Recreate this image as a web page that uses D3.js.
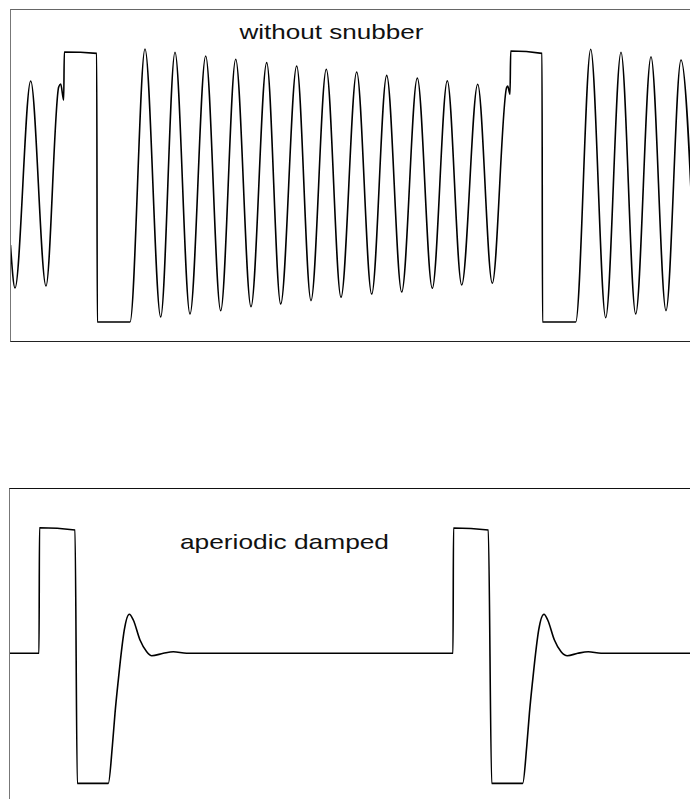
<!DOCTYPE html>
<html>
<head>
<meta charset="utf-8">
<script src="https://cdn.jsdelivr.net/npm/d3@7"></script>
<style>
  body { margin: 0; background: #fff; }
  svg { display: block; }
  .wave { fill: none; stroke: #000; stroke-width: 1.6; stroke-linejoin: round; }
  .label { font-family: "Liberation Sans", Arial, sans-serif; font-size: 21px; fill: #111; }
</style>
</head>
<body>
<svg id="chart" width="690" height="799"></svg>
<script>
// time in us, voltage normalised to the pulse level

// top: without snubber
const topT = [0.05, 0.5, 2.07, 3.6, 4.87, 5.07, 5.37, 5.43, 8.67, 8.73, 12.0,
  13.5, 15.07, 16.5, 18.0, 19.57, 21.07, 22.57, 24.1, 25.67, 27.07, 28.67, 30.1,
  31.63, 33.1, 34.67, 36.17, 37.67, 39.17, 40.73, 42.23, 43.73, 45.17, 46.77, 48.23,
  49.67, 49.77, 50.0, 50.07, 53.2, 53.25, 56.57,
  58.07, 59.57, 61.1, 62.57, 64.1, 65.6, 67.1, 68.6];
const topV = [-0.43, -0.748, 0.785, -0.733, 0.741, 0.763, 0.644, 1.0, 0.99, -1.0, -1.0,
  1.022, -0.963, 0.998, -0.941, 0.970, -0.916, 0.946, -0.887, 0.921, -0.867, 0.896, -0.842,
  0.872, -0.817, 0.852, -0.793, 0.827, -0.778, 0.807, -0.750, 0.787, -0.726, 0.761, -0.713,
  0.739, 0.748, 0.687, 1.007, 0.99, -1.0, -1.0,
  1.020, -0.968, 0.998, -0.941, 0.965, -0.916, 0.941, -0.891];

// bottom: aperiodic damped
const botT = [0, 2.9, 2.95, 6.5, 6.73, 9.83, 10.23, 10.5, 10.83, 11.2, 11.43, 11.93,
  12.33, 13.0, 13.67, 14.17, 15.33, 16.33, 17.67,
  44.3, 44.35, 47.83, 48.17, 51.27, 51.67, 51.94, 52.27, 52.64, 52.87, 53.4,
  53.77, 54.44, 55.11, 55.73, 56.77, 57.83, 59.11, 68.0];
const botV = [0, 0, 0.981, 0.963, -1.016, -1.016, -0.73, -0.469, -0.209, 0.052, 0.182, 0.305,
  0.26, 0.104, 0.0125, -0.019, 0, 0.0125, 0,
  0, 0.979, 0.963, -1.016, -1.016, -0.73, -0.469, -0.209, 0.052, 0.182, 0.305,
  0.26, 0.104, 0.0125, -0.019, 0, 0.0125, 0, 0];

const labels = ["without snubber", "aperiodic damped"];

const svg = d3.select("#chart");

let x = d3.scaleLinear().domain([0, 68]).range([10, 690]);
let yTop = d3.scaleLinear().domain([-1.148, 1.3185]).range([342, 9]);
let yBot = d3.scaleLinear().domain([-1.138, 1.291]).range([799, 488]);

function drawPanel(id, left, top, bottom, t, v, yScale) {
  let g = svg.append("g").attr("id", id);

  g.append("clipPath").attr("id", id + "-clip")
    .append("rect")
    .attr("x", left).attr("y", top)
    .attr("width", 690 - left).attr("height", bottom - top);

  let pts = t.map((d, i) => [d, v[i]]);
  let line = d3.line()
    .x(d => x(d[0]))
    .y(d => yScale(d[1]))
    .curve(d3.curveMonotoneX);

  g.append("path")
    .datum(pts)
    .attr("class", "wave")
    .attr("clip-path", "url(#" + id + "-clip)")
    .attr("d", line);

  // frame: grey left edge
  g.append("line").attr("x1", left).attr("x2", left).attr("y1", top).attr("y2", bottom)
    .attr("stroke", "#777").attr("stroke-width", 1);
  return g;
}

let gTop = drawPanel("top", 10.5, 9, 342, topT, topV, yTop);
gTop.append("line").attr("x1", 10.5).attr("x2", 690).attr("y1", 9.5).attr("y2", 9.5)
  .attr("stroke", "#666").attr("stroke-width", 1);
gTop.append("line").attr("x1", 10.5).attr("x2", 690).attr("y1", 341.5).attr("y2", 341.5)
  .attr("stroke", "#222").attr("stroke-width", 1.2);
gTop.append("text").attr("class", "label")
  .attr("x", 239.5).attr("y", 39.3)
  .attr("textLength", 184).attr("lengthAdjust", "spacingAndGlyphs")
  .text(labels[0]);

let gBot = drawPanel("bot", 9.5, 488, 800, botT, botV, yBot);
gBot.append("line").attr("x1", 9.5).attr("x2", 690).attr("y1", 488.5).attr("y2", 488.5)
  .attr("stroke", "#111").attr("stroke-width", 1.2);
gBot.append("text").attr("class", "label")
  .attr("x", 180).attr("y", 549)
  .attr("textLength", 209).attr("lengthAdjust", "spacingAndGlyphs")
  .text(labels[1]);
</script>
</body>
</html>
